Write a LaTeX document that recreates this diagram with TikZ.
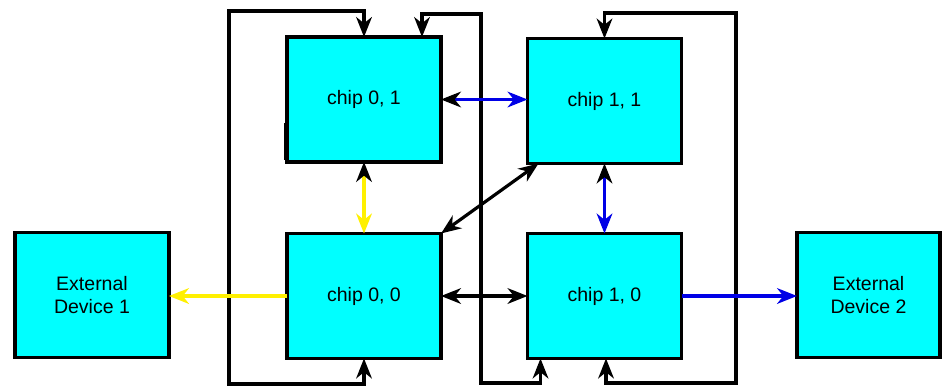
\documentclass[tikz,border=0pt]{standalone}
\usepackage{fontspec}
\setmainfont{Liberation Sans}
\usetikzlibrary{arrows.meta}
\definecolor{boxcyan}{RGB}{0,255,255}
\definecolor{lnblue}{RGB}{0,0,230}
\definecolor{lnyellow}{RGB}{255,240,0}
\tikzset{
  mytip/.tip={Stealth[length=7mm,width=5.5mm,inset=2.2mm]},
  myblacktip/.tip={Stealth[length=7mm,width=5.5mm,inset=2.2mm,color=black]}}
\begin{document}
\begin{tikzpicture}[x=1pt,y=-1pt,
  chipbox/.style={draw=black,fill=boxcyan,line width=3.2pt,minimum width=154pt,minimum height=125pt,inner sep=0pt,outer sep=0pt,align=center,font=\fontsize{19.5}{23.5}\selectfont},
  conn/.style={line width=3.2pt},
  one/.style={conn,-mytip},
  two/.style={conn,mytip-mytip},
  twob/.style={conn,myblacktip-mytip}]
\useasboundingbox (0,0) rectangle (942,386);
\fill[white] (0,0) rectangle (942,386);
% boxes
\node[chipbox] (c01) at (364,99.5) {chip 0, 1};
\node[chipbox] (c11) at (604.5,101) {chip 1, 1};
\node[chipbox] (c00) at (364,296) {chip 0, 0};
\node[chipbox] (c10) at (604.5,296) {chip 1, 0};
\node[chipbox] (e1) at (92,295) {External\\Device 1};
\node[chipbox,minimum width=143pt] (e2) at (868.5,295) {External\\Device 2};
\draw[line width=2.5pt] (285.5,123) -- (285.5,160);
% loop corners
\coordinate (L1a) at (229,384);
\coordinate (L1b) at (229,11);
\coordinate (L2a) at (481,383);
\coordinate (L2b) at (481,14);
\coordinate (L3a) at (736,383);
\coordinate (L3b) at (736,13);
% loops
\draw[two] (c00.south) |- (L1a) -- (L1b) -| (c01.north);
\draw[two] ([xshift=13pt]c10.south west) |- (L2a) -- (L2b) -| ([xshift=-19pt]c01.north east);
\draw[two] ([xshift=1.5pt]c10.south) |- (L3a) -- (L3b) -| (c11.north);
% direct links
\draw[twob,lnblue] (c01.east) -- (c01.east -| c11.west);
\draw[twob,lnyellow] (c01.south) -- (c00.north);
\draw[two] ([xshift=11pt]c11.south west) -- (c00.north east);
\draw[twob,lnblue] (c11.south) -- (c10.north);
\draw[two] (c00.east) -- (c10.west);
\draw[one,lnyellow] (c00.west) -- (c00.west -| e1.east);
\draw[one,lnblue] (c10.east) -- (c10.east -| e2.west);
\end{tikzpicture}
\end{document}
